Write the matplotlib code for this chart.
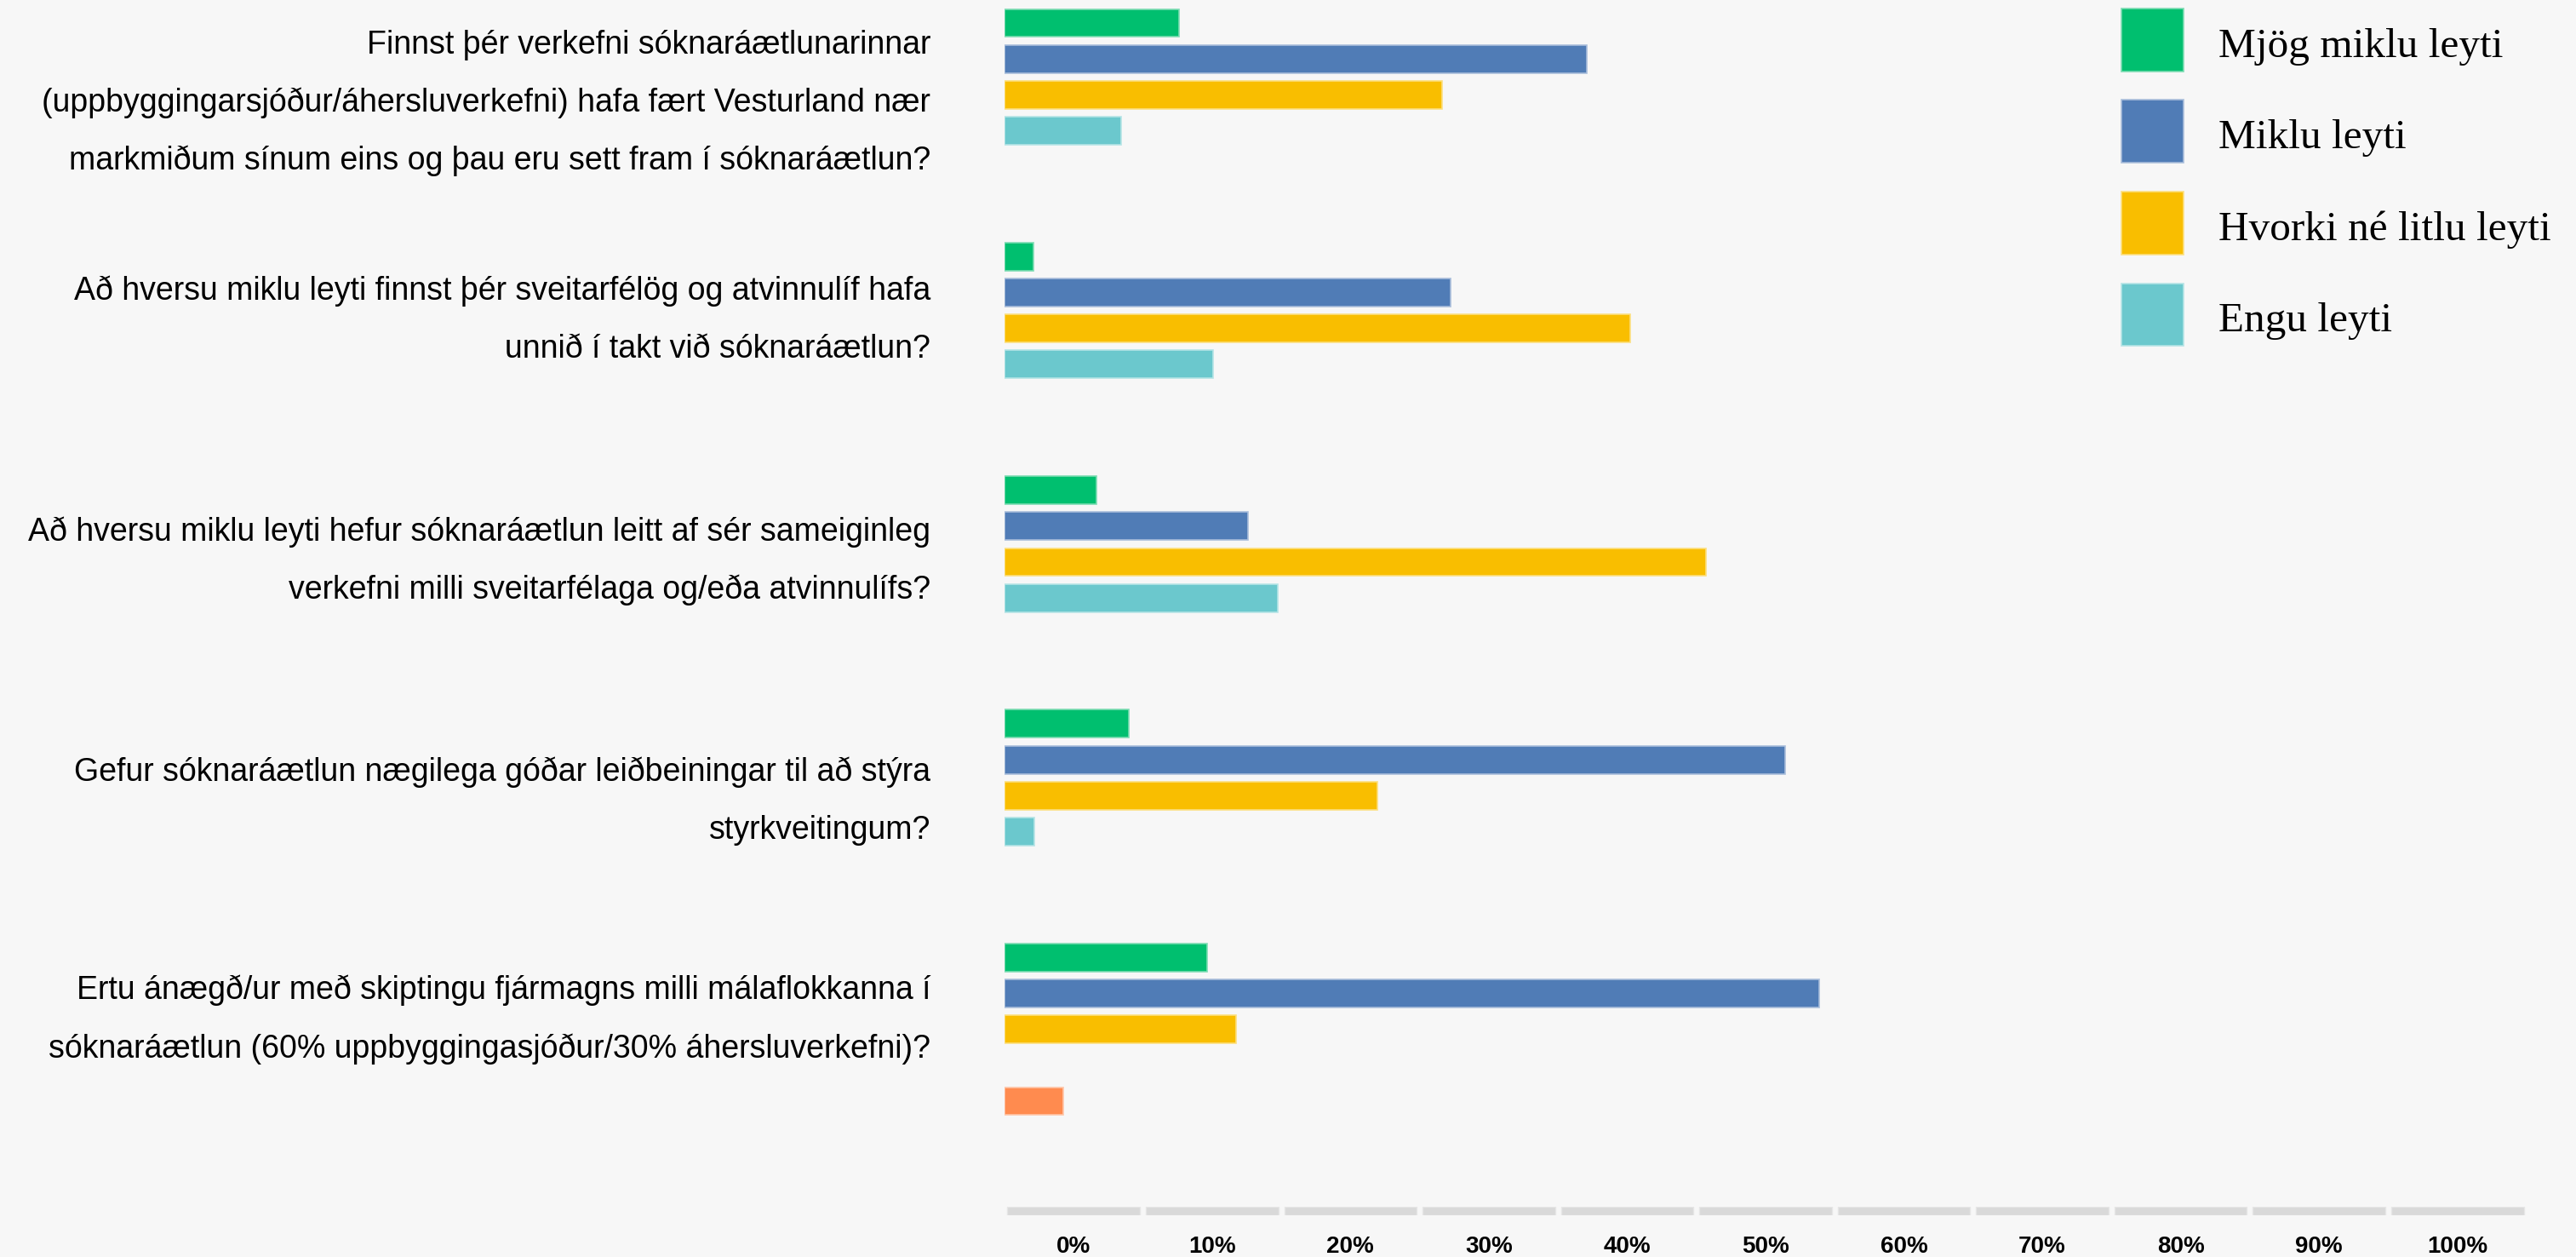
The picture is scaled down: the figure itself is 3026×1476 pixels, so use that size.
import matplotlib
matplotlib.use("Agg")
import matplotlib.pyplot as plt
from matplotlib.patches import Rectangle

# ---------------- data ----------------
questions = [
    ["Finnst þér verkefni sóknaráætlunarinnar",
     "(uppbyggingarsjóður/áhersluverkefni) hafa fært Vesturland nær",
     "markmiðum sínum eins og þau eru sett fram í sóknaráætlun?"],
    ["Að hversu miklu leyti finnst þér sveitarfélög og atvinnulíf hafa",
     "unnið í takt við sóknaráætlun?"],
    ["Að hversu miklu leyti hefur sóknaráætlun leitt af sér sameiginleg",
     "verkefni milli sveitarfélaga og/eða atvinnulífs?"],
    ["Gefur sóknaráætlun nægilega góðar leiðbeiningar til að stýra",
     "styrkveitingum?"],
    ["Ertu ánægð/ur með skiptingu fjármagns milli málaflokkanna í",
     "sóknaráætlun (60% uppbyggingasjóður/30% áhersluverkefni)?"],
]
series_names = ["Mjög miklu leyti", "Miklu leyti", "Hvorki né litlu leyti", "Engu leyti", "Annað"]
mjog_miklu = [13.3, 2.2, 7.0, 9.5, 15.5]
miklu = [44.5, 34.1, 18.6, 59.6, 62.2]
hvorki = [33.4, 47.8, 53.6, 28.5, 17.7]
engu = [8.9, 15.9, 20.9, 2.3, 0.0]
annad = [0.0, 0.0, 0.0, 0.0, 4.5]
tick_labels = ["0%", "10%", "20%", "30%", "40%", "50%", "60%", "70%", "80%", "90%", "100%"]
legend_series = 4  # only first four series in legend

colors = ["#00BF6F", "#507CB6", "#F9BE00", "#6BC8CD", "#FF8B4F"]
edge_colors = ["#7ddcb3", "#a9bedb", "#fcdf80", "#b5e4e6", "#ffc5a7"]
BG = "#F7F7F7"

# ---------------- figure ----------------
W, H = 3026, 1476
DPI = 100
fig = plt.figure(figsize=(W / DPI, H / DPI), dpi=DPI, facecolor=BG)

def fx(px):
    return px / W

def fy(py):
    return 1 - py / H

# main bar axes: 0..100 maps to px 1180..2718
slot_px = 42.2
first_center = 27.0
ax = fig.add_axes([fx(1180), 0, fx(2718) - fx(1180), 1])
ax.set_xlim(0, 100)
ax.set_ylim((H - first_center) / slot_px, -first_center / slot_px)
ax.axis("off")
ax.patch.set_alpha(0)

all_series = [mjog_miklu, miklu, hvorki, engu, annad]
group_step = 6.5
for s, vals in enumerate(all_series):
    ys = [g * group_step + s for g, v in enumerate(vals) if v > 0]
    widths = [v for v in vals if v > 0]
    ax.barh(ys, widths, height=0.78, color=colors[s], edgecolor=edge_colors[s],
            linewidth=1.2, zorder=2)

# question labels (right aligned)
baselines = [[63, 131, 199], [352, 420], [635, 703], [917, 985], [1173, 1242]]
for lines, bls in zip(questions, baselines):
    for line, bl in zip(lines, bls):
        fig.text(fx(1093), fy(bl), line, ha="right", va="baseline",
                 fontsize=27, family="Liberation Sans", color="#000000")

# band axis at the bottom
axb = fig.add_axes([fx(1180), fy(1427), fx(2968) - fx(1180), (1427 - 1417) / H])
axb.set_xlim(0, len(tick_labels))
axb.set_ylim(0, 1)
axb.bar([i + 0.5 for i in range(len(tick_labels))], [1] * len(tick_labels),
        width=0.958, color="#D9D9D9", edgecolor="#E6E6E6", linewidth=1)
axb.set_xticks([i + 0.5 for i in range(len(tick_labels))])
axb.set_xticklabels(tick_labels, fontsize=20, fontweight="bold", family="Liberation Sans")
axb.tick_params(axis="x", length=0, pad=17)
axb.set_yticks([])
for sp in axb.spines.values():
    sp.set_visible(False)
axb.patch.set_alpha(0)

# legend
sw = 73
centers = [47, 154, 262, 369]
for i in range(legend_series):
    cy = centers[i]
    fig.patches.append(Rectangle((fx(2492), fy(cy + sw / 2)), sw / W, sw / H,
                                 transform=fig.transFigure, facecolor=colors[i],
                                 edgecolor=edge_colors[i], linewidth=1.2))
    fig.text(fx(2606), fy(cy + 20), series_names[i], ha="left", va="baseline",
             fontsize=35.5, family="Liberation Serif", color="#000000")

fig.savefig("out.png", dpi=DPI, facecolor=BG)
